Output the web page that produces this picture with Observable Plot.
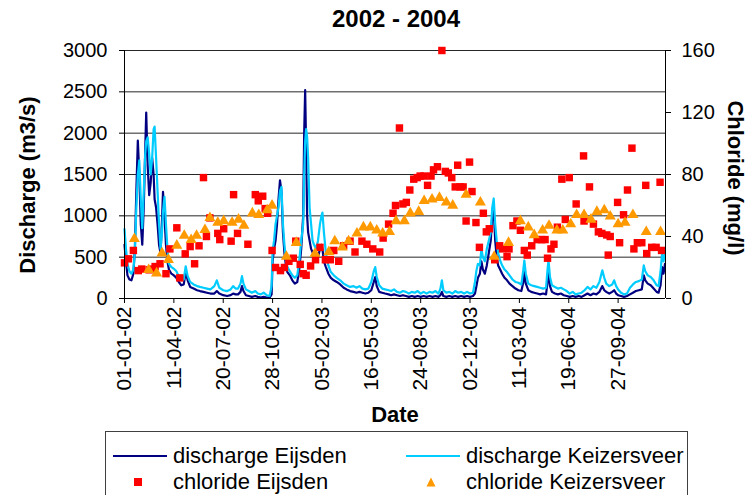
<!DOCTYPE html>
<html>
<head>
<meta charset="utf-8">
<script src="https://cdn.jsdelivr.net/npm/d3@7"></script>
<script src="https://cdn.jsdelivr.net/npm/@observablehq/plot@0.6"></script>
<style>
  body { margin: 0; background: #fff; }
  #wrap { position: relative; width: 748px; height: 495px; overflow: hidden; background: #fff;
          font-family: "Liberation Sans", Arial, sans-serif; color: #000; }
  #chart { position: absolute; left: 0; top: 0; }
  .abs { position: absolute; white-space: nowrap; }
  .bold { font-weight: bold; }
  #title { left: 396px; top: 19px; transform: translate(-50%, -50%); font-size: 24px; }
  #ylabL { left: 28px; top: 185px; transform: translate(-50%, -50%) rotate(-90deg); font-size: 22px; }
  #ylabR { left: 735px; top: 178px; transform: translate(-50%, -50%) rotate(90deg); font-size: 22px; }
  #xlab { left: 395px; top: 415px; transform: translate(-50%, -50%); font-size: 22px; }
  #legend { left: 105px; top: 431px; width: 583px; height: 70px; border: 1px solid #404040; box-sizing: border-box; }
  .ltxt { font-size: 22px; line-height: 24px; height: 24px; }
</style>
</head>
<body>
<div id="wrap">
  <div id="chart"></div>
  <div id="title" class="abs bold"></div>
  <div id="ylabL" class="abs bold"></div>
  <div id="ylabR" class="abs bold"></div>
  <div id="xlab" class="abs bold"></div>
  <div id="legend" class="abs"></div>
</div>
<script>
// ---------------- data ----------------
const titleText = "2002 - 2004";
const leftAxisTitle = "Discharge (m3/s)";
const rightAxisTitle = "Chloride (mg/l)";
const xAxisTitle = "Date";
const seriesNames = ["discharge Eijsden", "discharge Keizersveer", "chloride Eijsden", "chloride Keizersveer"];
const seriesColors = ["#000080", "#00CCFF", "#FF0000", "#FF9900"];

const leftTicks = [0, 500, 1000, 1500, 2000, 2500, 3000];
const rightTicks = [0, 40, 80, 120, 160];
const xTickDates = ["2002-01-01","2002-04-11","2002-07-20","2002-10-28","2003-02-05","2003-05-16",
                    "2003-08-24","2003-12-02","2004-03-11","2004-06-19","2004-09-27"];
const xDomain = ["2002-01-01", "2005-01-01"];

// discharge (m3/s)
const dischargeDates = [
  "2002-01-01","2002-01-04","2002-01-07","2002-01-11","2002-01-15","2002-01-19","2002-01-22","2002-01-25","2002-01-28","2002-01-31",
  "2002-02-03","2002-02-06","2002-02-09","2002-02-12","2002-02-14","2002-02-17","2002-02-20","2002-02-23","2002-02-26","2002-03-01",
  "2002-03-03","2002-03-06","2002-03-09","2002-03-12","2002-03-15","2002-03-18","2002-03-20","2002-03-23","2002-03-26","2002-03-29",
  "2002-04-01","2002-04-06","2002-04-11","2002-04-16","2002-04-21","2002-04-26","2002-05-01","2002-05-05","2002-05-09","2002-05-14",
  "2002-05-21","2002-05-28","2002-06-03","2002-06-10","2002-06-17","2002-06-24","2002-07-02","2002-07-07","2002-07-12","2002-07-20",
  "2002-07-28","2002-08-04","2002-08-09","2002-08-14","2002-08-19","2002-08-24","2002-08-27","2002-08-30","2002-09-04","2002-09-10",
  "2002-09-16","2002-09-23","2002-09-28","2002-10-04","2002-10-10","2002-10-16","2002-10-22","2002-10-26","2002-10-28","2002-10-31",
  "2002-11-03","2002-11-06","2002-11-09","2002-11-12","2002-11-15","2002-11-18","2002-11-21","2002-11-24","2002-11-27","2002-12-02",
  "2002-12-07","2002-12-12","2002-12-17","2002-12-21","2002-12-25","2002-12-29","2002-12-31",
  "2003-01-02","2003-01-04","2003-01-06","2003-01-08","2003-01-11","2003-01-14","2003-01-17","2003-01-20","2003-01-24","2003-01-28",
  "2003-02-01","2003-02-04","2003-02-06","2003-02-09","2003-02-13","2003-02-18","2003-02-23","2003-03-01","2003-03-07","2003-03-14",
  "2003-03-21","2003-03-27","2003-04-03","2003-04-10","2003-04-16","2003-04-22","2003-04-28","2003-05-04","2003-05-10","2003-05-16",
  "2003-05-21","2003-05-24","2003-05-27","2003-06-01","2003-06-07","2003-06-13","2003-06-20","2003-06-25","2003-07-01","2003-07-07",
  "2003-07-13","2003-07-19","2003-07-25","2003-07-31","2003-08-06","2003-08-12","2003-08-18","2003-08-24","2003-08-30","2003-09-05",
  "2003-09-11","2003-09-17","2003-09-23","2003-09-29","2003-10-03","2003-10-06","2003-10-09","2003-10-15","2003-10-21","2003-10-27",
  "2003-11-02","2003-11-08","2003-11-14","2003-11-20","2003-11-26","2003-12-02","2003-12-08","2003-12-12","2003-12-15","2003-12-18",
  "2003-12-22","2003-12-25","2003-12-28",
  "2004-01-01","2004-01-05","2004-01-09","2004-01-13","2004-01-16","2004-01-19","2004-01-22","2004-01-25","2004-01-28","2004-02-01",
  "2004-02-05","2004-02-10","2004-02-15","2004-02-20","2004-02-26","2004-03-03","2004-03-09","2004-03-15","2004-03-19","2004-03-21",
  "2004-03-24","2004-03-29","2004-04-04","2004-04-10","2004-04-16","2004-04-22","2004-04-28","2004-05-04","2004-05-07","2004-05-09",
  "2004-05-12","2004-05-16","2004-05-22","2004-05-28","2004-06-03","2004-06-09","2004-06-15","2004-06-21","2004-06-27","2004-07-03",
  "2004-07-09","2004-07-15","2004-07-21","2004-07-27","2004-08-02","2004-08-08","2004-08-14","2004-08-20","2004-08-26","2004-08-30",
  "2004-09-03","2004-09-09","2004-09-15","2004-09-19","2004-09-23","2004-09-27","2004-10-03","2004-10-09","2004-10-15","2004-10-21",
  "2004-10-27","2004-11-02","2004-11-08","2004-11-14","2004-11-18","2004-11-21","2004-11-26","2004-12-02","2004-12-08","2004-12-14",
  "2004-12-18","2004-12-22","2004-12-25","2004-12-28","2004-12-31"
];
const dischargeEijsden = [
  650,450,280,230,220,300,600,1300,1910,1500,
  900,650,1100,1800,2250,1600,1250,1400,1700,1500,
  1200,1100,900,650,550,950,1290,1000,650,450,
  350,300,280,250,200,160,170,320,220,140,
  120,100,90,80,70,60,60,90,60,40,
  30,40,60,50,50,80,150,90,40,30,
  20,30,20,10,20,10,10,50,450,600,
  700,900,1200,1430,1300,800,550,400,320,280,
  220,180,200,350,600,1000,2000,
  2520,1800,1000,800,700,600,560,500,480,500,
  600,650,600,450,380,300,250,220,200,170,
  130,110,90,80,70,80,70,60,70,100,
  200,260,150,80,70,60,50,40,50,40,
  30,40,30,20,30,20,30,20,30,20,
  30,20,30,20,40,80,30,20,30,20,
  30,20,30,20,30,20,30,60,150,250,
  300,450,350,
  300,400,550,700,1000,1070,700,500,400,350,
  300,250,220,180,150,120,100,90,200,320,
  180,100,80,70,60,50,60,50,200,320,
  150,80,60,50,60,40,30,20,30,20,
  30,20,40,60,40,60,50,80,150,100,
  80,60,80,100,60,40,30,20,30,50,
  70,90,100,110,280,220,180,160,120,80,
  70,160,380,300,420
];
const dischargeKeizersveer = [
  840,600,420,330,300,350,560,1100,1500,1670,
  1200,850,1300,1750,1900,1950,1750,1500,1700,2050,
  2080,1700,1300,900,600,800,1050,1230,900,600,
  420,380,360,330,270,220,230,390,270,200,
  170,150,140,130,120,110,150,220,130,100,
  90,110,150,120,120,180,270,180,110,90,
  70,90,60,50,70,40,30,150,580,700,
  900,1000,1100,1300,1350,900,650,480,380,330,
  280,250,280,450,700,900,1500,
  1900,2050,1950,1700,1100,900,700,650,600,700,
  900,1000,1040,800,550,400,320,280,250,220,
  180,160,140,150,130,150,120,110,120,200,
  330,380,260,160,120,110,100,90,110,80,
  70,90,80,60,80,70,90,60,80,60,
  80,70,90,60,120,220,100,70,80,60,
  90,70,80,60,80,60,70,200,340,420,
  400,600,500,
  450,600,700,800,1100,1210,900,700,550,460,
  400,350,320,280,230,200,190,170,350,460,
  300,180,160,150,140,130,120,130,350,460,
  260,160,140,120,130,110,90,60,80,50,
  60,70,100,140,110,150,130,200,340,250,
  180,150,170,220,150,110,70,50,60,130,
  170,200,210,230,400,330,280,260,220,160,
  150,330,540,450,560
];

// chloride (mg/l)
const chlorideEijsdenDates = [
  "2002-01-01","2002-01-09","2002-01-19","2002-01-29","2002-02-05","2002-02-20","2002-02-25","2002-03-04","2002-03-14","2002-03-26",
  "2002-04-03","2002-04-17","2002-04-23","2002-05-04","2002-05-14","2002-05-23","2002-06-01","2002-06-10","2002-06-16","2002-06-23",
  "2002-07-09","2002-07-13","2002-07-21","2002-08-05","2002-08-10","2002-08-18","2002-09-08","2002-09-23","2002-09-29","2002-10-08",
  "2002-10-13","2002-10-18","2002-10-27","2002-11-03","2002-11-13","2002-11-21","2002-11-30","2002-12-09","2002-12-14","2002-12-23",
  "2002-12-29",
  "2003-01-04","2003-01-13","2003-01-23","2003-02-01","2003-02-12","2003-02-22","2003-03-01","2003-03-11","2003-03-21","2003-04-03",
  "2003-04-13","2003-04-27","2003-05-07","2003-05-19","2003-06-02","2003-06-09","2003-06-20","2003-06-29","2003-07-04","2003-07-12",
  "2003-07-19","2003-07-26","2003-08-02","2003-08-10","2003-08-17","2003-08-23","2003-08-31","2003-09-07","2003-09-14","2003-09-19",
  "2003-09-27","2003-10-06","2003-10-13","2003-10-19","2003-10-26","2003-11-02","2003-11-07","2003-11-12","2003-11-18","2003-11-24",
  "2003-12-01","2003-12-06","2003-12-14","2003-12-21","2003-12-29",
  "2004-01-04","2004-01-10","2004-01-21","2004-01-31","2004-02-06","2004-02-15","2004-02-19","2004-02-27","2004-03-06","2004-03-13",
  "2004-03-21","2004-03-27","2004-04-05","2004-04-16","2004-04-25","2004-05-02","2004-05-07","2004-05-14","2004-05-20","2004-05-27",
  "2004-06-05","2004-06-12","2004-06-20","2004-07-04","2004-07-19","2004-07-20","2004-07-31","2004-08-08","2004-08-18","2004-08-25",
  "2004-09-04","2004-09-07","2004-09-11","2004-09-26","2004-09-30","2004-10-08","2004-10-16","2004-10-25","2004-10-29","2004-11-05",
  "2004-11-14","2004-11-22","2004-11-24","2004-12-04","2004-12-13","2004-12-21","2004-12-24"
];
const chlorideEijsden = [
  23,25.6,31,18,19,18.5,19,20.6,22.4,16,
  32,45.6,13.3,28.8,33.5,22.4,34,78,40,52,
  42,38,45,37,67,42,35,67,63,66,
  58,55,31,20,18,20,24,26,37,22,
  16,
  15,21,25,33,25,25,31,24,34,37,
  30,37,35,32,30,39,48,55,60,110,
  61,62,70,77,78,79,79,73,79,83,
  85,160,82,81,78,72,86,72,72,50,
  88,69,49,33,55,
  43,45,25,34,32,27,32,47,50,44,
  31,28,34,38,38,38,26,32,35,46,
  77,51,78,61,92,50,72,48,43,42,
  41,28,40,62,36,54,70,97,32,36,
  36,73,29,33,33,75,31
];
const chlorideKeizersveerDates = [
  "2002-01-21","2002-02-19","2002-03-07","2002-03-18","2002-03-31","2002-04-17","2002-05-02","2002-05-16","2002-05-27","2002-06-13",
  "2002-06-23","2002-07-09","2002-07-21","2002-08-07","2002-08-20","2002-08-31","2002-09-17","2002-09-30","2002-10-17","2002-10-27",
  "2002-11-25","2002-12-15",
  "2003-01-22","2003-02-19","2003-03-03","2003-03-18","2003-03-31","2003-04-17","2003-04-30","2003-05-14","2003-05-27","2003-06-08",
  "2003-06-22","2003-07-05","2003-07-22","2003-08-03","2003-08-20","2003-08-31","2003-09-16","2003-10-01","2003-10-15","2003-10-28",
  "2003-11-24","2003-12-23",
  "2004-01-20","2004-02-18","2004-03-13","2004-03-29","2004-04-10","2004-04-27","2004-05-10","2004-05-26","2004-06-07","2004-06-23",
  "2004-07-05","2004-07-20","2004-08-03","2004-08-15","2004-08-30","2004-09-11","2004-09-27","2004-10-11","2004-10-27","2004-11-23",
  "2004-12-22"
];
const chlorideKeizersveer = [
  38.5,18.5,16.3,29.2,25,34.2,40.6,37.9,40.6,44.3,
  52,49,50,49,51,47,55,54,57,60,
  27,36,
  29,30,37,33,37,42,46,46,44,42,
  43,50,50,55,56,63,64,65,62,60,
  67,62,
  27,36,50,46,41,44,47,44,44,48,
  54,54,51,56,57,53,48,49,54,43,
  43
];

// ---------------- build ----------------
const parse = d3.utcParse("%Y-%m-%d");
const k = 3000 / 160; // secondary axis: mg/l -> position on the discharge scale

const discharge = dischargeDates.map((d, i) => ({
  date: parse(d), eijsden: dischargeEijsden[i], keizersveer: dischargeKeizersveer[i]
}));
const clE = chlorideEijsdenDates.map((d, i) => ({ date: parse(d), value: chlorideEijsden[i] }));
const clK = chlorideKeizersveerDates.map((d, i) => ({ date: parse(d), value: chlorideKeizersveer[i] }));
const xDom = xDomain.map(parse);

const font = "'Liberation Sans', Arial, sans-serif";

const chart = Plot.plot({
  width: 748,
  height: 430,
  marginTop: 50,
  marginLeft: 124,
  marginRight: 83,
  marginBottom: 132,
  style: { fontFamily: font, fontSize: "20px", background: "transparent", color: "#000" },
  x: { type: "utc", domain: xDom },
  y: { domain: [0, 3000] },
  marks: [
    Plot.gridY({ ticks: leftTicks.filter(t => t > 0), stroke: "#000", strokeOpacity: 0.85, strokeWidth: 1 }),
    Plot.lineY(discharge, { x: "date", y: "eijsden", stroke: seriesColors[0], strokeWidth: 2.2 }),
    Plot.lineY(discharge, { x: "date", y: "keizersveer", stroke: seriesColors[1], strokeWidth: 2.2 }),
    Plot.dot(clE, { x: "date", y: d => d.value * k, symbol: "square", r: 4.2, fill: seriesColors[2] }),
    Plot.dot(clK, { x: "date", y: d => d.value * k, symbol: "triangle", r: 4.1, fill: seriesColors[3] }),
    Plot.ruleX([xDom[0]], { stroke: "#000", strokeWidth: 1 }),
    Plot.ruleX([xDom[1]], { stroke: "#000", strokeWidth: 1 }),
    Plot.ruleY([0], { stroke: "#000", strokeWidth: 1 }),
    Plot.axisY({ anchor: "left", ticks: leftTicks, tickFormat: d => String(d), tickSize: 5, tickPadding: 12, fontSize: 20, label: null }),
    Plot.axisY({ anchor: "right", ticks: rightTicks.map(t => t * k), tickFormat: d => String(Math.round(d / k)),
                 tickSize: 5, tickPadding: 11, fontSize: 20, label: null }),
    Plot.axisX({ anchor: "bottom", ticks: xTickDates.map(parse), tickFormat: d3.utcFormat("%d-%m-%y"),
                 tickRotate: -90, tickSize: 5, tickPadding: 3, fontSize: 21, label: null })
  ]
});
document.getElementById("chart").appendChild(chart);

document.getElementById("title").textContent = titleText;
document.getElementById("ylabL").textContent = leftAxisTitle;
document.getElementById("ylabR").textContent = rightAxisTitle;
document.getElementById("xlab").textContent = xAxisTitle;

// legend (positions relative to the wrap)
const wrap = document.getElementById("wrap");
function addEl(html) { const t = document.createElement("div"); t.innerHTML = html; const e = t.firstChild; wrap.appendChild(e); return e; }
// row 1: lines
addEl(`<div class="abs" style="left:113px;top:455px;width:54px;height:2px;background:${seriesColors[0]}"></div>`);
addEl(`<div class="abs" style="left:406px;top:455px;width:54px;height:2px;background:${seriesColors[1]}"></div>`);
// row 2: markers
addEl(`<div class="abs" style="left:134px;top:478px;width:8px;height:8px;background:${seriesColors[2]}"></div>`);
addEl(`<svg class="abs" style="left:425px;top:476px" width="12" height="12"><path d="M6,1.5 L10.5,10.5 L1.5,10.5 Z" fill="${seriesColors[3]}"/></svg>`);
const rows = [[173, 444, seriesNames[0]], [466, 444, seriesNames[1]], [173, 470, seriesNames[2]], [466, 470, seriesNames[3]]];
for (const [x, y, s] of rows) {
  const e = addEl(`<div class="abs ltxt" style="left:${x}px;top:${y}px"></div>`);
  e.textContent = s;
}
</script>
</body>
</html>
